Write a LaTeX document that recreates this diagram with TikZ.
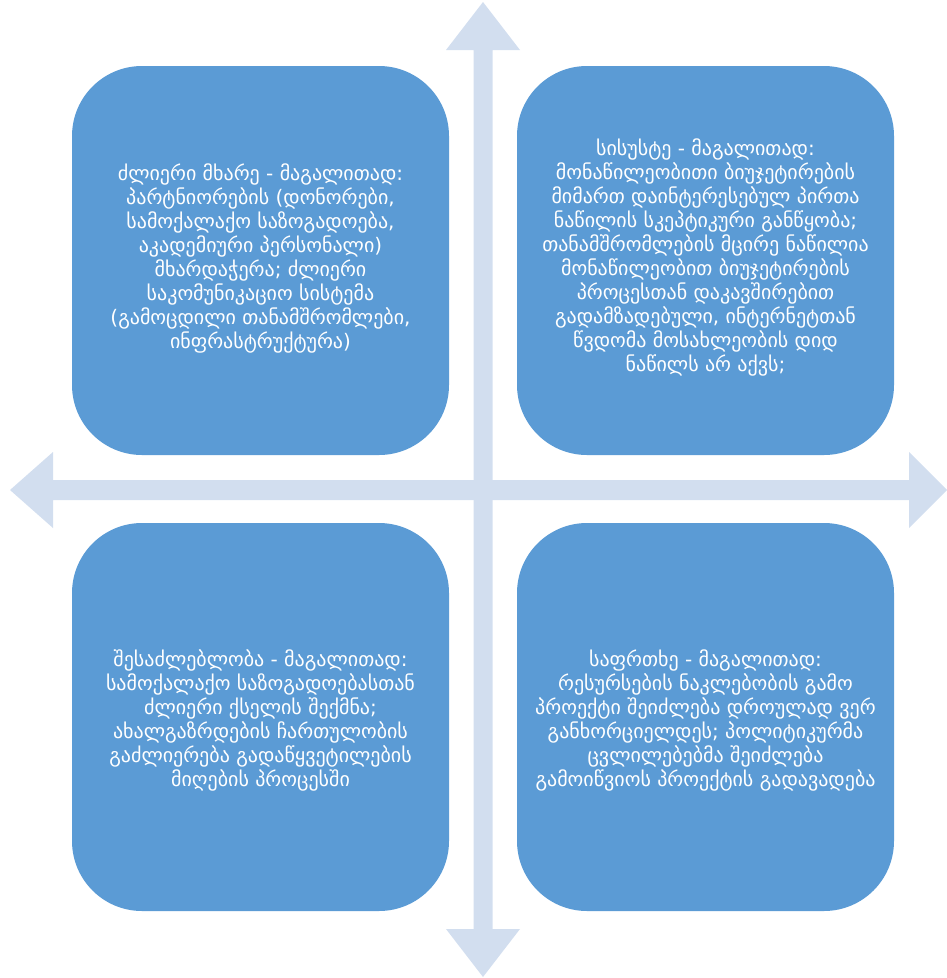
\documentclass[tikz,border=0pt]{standalone}
\usepackage{fontspec}
\setmainfont{DejaVu Sans}
\definecolor{boxblue}{HTML}{5B9BD5}
\definecolor{arrowblue}{HTML}{D2DEEF}
\tikzset{
  quad/.style={fill=boxblue, draw=none, rounded corners=70pt},
  quadtext/.style={text=white, align=center, font=\fontsize{20}{24}\selectfont, inner sep=0pt},
  axisarrow/.style={fill=arrowblue, draw=none}
}
\begin{document}
\begin{tikzpicture}[x=1pt,y=-1pt]
\useasboundingbox (0,0) rectangle (947,978);
% axes
\fill[axisarrow] (483,2) -- (520,50) -- (492.5,50) -- (492.5,929) -- (520,929) -- (483,977)
  -- (446,929) -- (473.5,929) -- (473.5,50) -- (446,50) -- cycle;
\fill[axisarrow] (10,490) -- (53,452) -- (53,480) -- (909,480) -- (909,452) -- (947,490)
  -- (909,528) -- (909,500) -- (53,500) -- (53,528) -- cycle;
% boxes
\fill[quad] (72,66) rectangle (449,455);
\fill[quad] (517,66) rectangle (894,455);
\fill[quad] (72,523) rectangle (449,911);
\fill[quad] (517,523) rectangle (894,911);
\node[quadtext] (s) at (260.5,258.5) {ძლიერი მხარე - მაგალითად:\\
პარტნიორების (დონორები,\\
სამოქალაქო საზოგადოება,\\
აკადემიური პერსონალი)\\
მხარდაჭერა; ძლიერი\\
საკომუნიკაციო სისტემა\\
(გამოცდილი თანამშრომლები,\\
ინფრასტრუქტურა)};
\node[quadtext] (w) at (705.5,257.5) {სისუსტე - მაგალითად:\\
მონაწილეობითი ბიუჯეტირების\\
მიმართ დაინტერესებულ პირთა\\
ნაწილის სკეპტიკური განწყობა;\\
თანამშრომლების მცირე ნაწილია\\
მონაწილეობით ბიუჯეტირების\\
პროცესთან დაკავშირებით\\
გადამზადებული, ინტერნეტთან\\
წვდომა მოსახლეობის დიდ\\
ნაწილს არ აქვს;};
\node[quadtext] (o) at (260.5,720) {შესაძლებლობა - მაგალითად:\\
სამოქალაქო საზოგადოებასთან\\
ძლიერი ქსელის შექმნა;\\
ახალგაზრდების ჩართულობის\\
გაძლიერება გადაწყვეტილების\\
მიღების პროცესში};
\node[quadtext] (t) at (705.5,720) {საფრთხე - მაგალითად:\\
რესურსების ნაკლებობის გამო\\
პროექტი შეიძლება დროულად ვერ\\
განხორციელდეს; პოლიტიკურმა\\
ცვლილებებმა შეიძლება\\
გამოიწვიოს პროექტის გადავადება};
\end{tikzpicture}
\end{document}
